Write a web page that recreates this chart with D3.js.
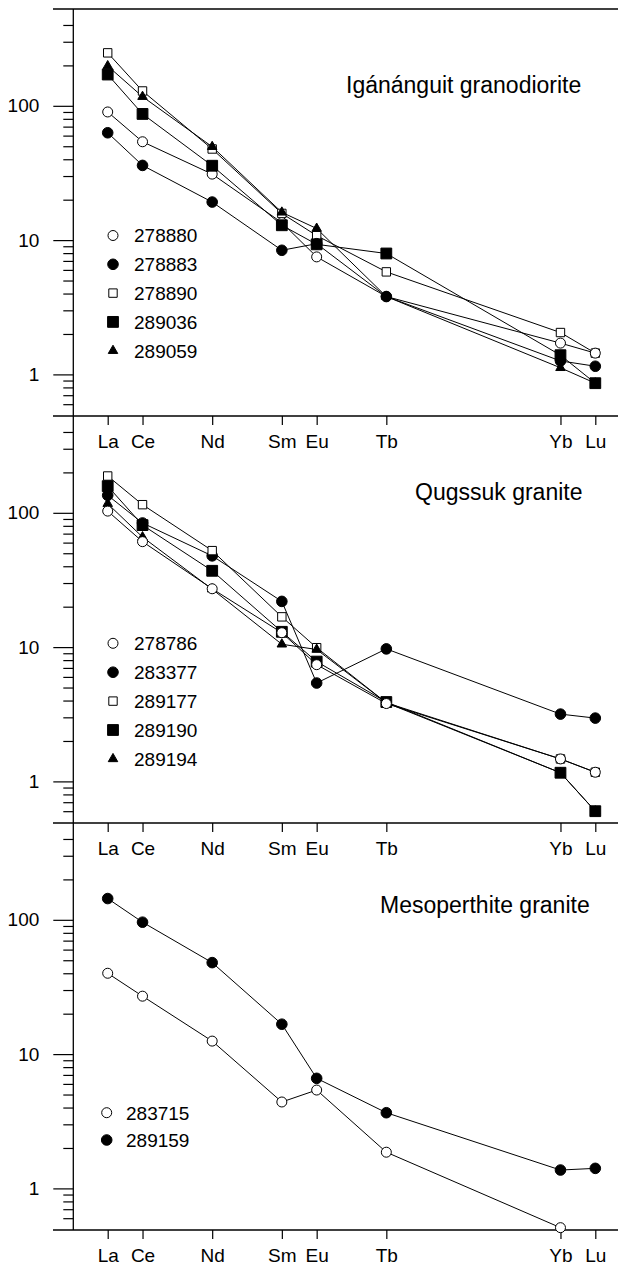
<!DOCTYPE html>
<html>
<head>
<meta charset="utf-8">
<script src="https://cdn.jsdelivr.net/npm/d3@7"></script>
<style>
  html, body { margin: 0; padding: 0; background: #fff; }
  svg { display: block; font-family: "Liberation Sans", Arial, Helvetica, sans-serif; }
</style>
</head>
<body>
<svg id="chart" width="618" height="1265"></svg>
<script>
// Rare earth elements shown on the x axis, placed by atomic number
const elements = ["La", "Ce", "Nd", "Sm", "Eu", "Tb", "Yb", "Lu"];
const atomicNumbers = [57, 58, 60, 62, 63, 65, 70, 71];

// Chondrite-normalised log axis
const majorTicks = [1, 10, 100];
const majorTickLabels = ["1", "10", "100"];
const minorTicks = [0.6, 0.7, 0.8, 0.9, 2, 3, 4, 5, 6, 7, 8, 9,
                    20, 30, 40, 50, 60, 70, 80, 90, 200, 300, 400];

// Igánánguit granodiorite
const igaSamples = ["278880", "278883", "278890", "289036", "289059"];
const igaSymbols = ["circleOpen", "circleFilled", "squareOpen", "squareFilled", "triangle"];
const iga278880 = [90, 54, 31, 13.5, 7.5, 3.8, 1.71, 1.44];
const iga278883 = [63, 36, 19.2, 8.4, 9.4, 3.8, 1.26, 1.15];
const iga278890 = [248, 129, 47.7, 15.8, 10.8, 5.8, 2.05, 1.44];
const iga289036 = [171, 87, 35.8, 12.9, 9.3, 7.95, 1.39, 0.86];
const iga289059 = [198, 117, 49.6, 16.1, 12.2, 3.8, 1.12, 0.86];

// Qugssuk granite
const qugSamples = ["278786", "283377", "289177", "289190", "289194"];
const qugSymbols = ["circleOpen", "circleFilled", "squareOpen", "squareFilled", "triangle"];
const qug278786 = [103, 61, 27.2, 12.8, 7.4, 3.8, 1.47, 1.17];
const qug283377 = [135, 84, 47.8, 21.9, 5.4, 9.7, 3.17, 2.96];
const qug289177 = [188, 115, 52.3, 16.8, 9.9, 3.85, 1.47, 1.17];
const qug289190 = [158, 81, 37, 13, 7.8, 3.9, 1.16, 0.6];
const qug289194 = [117, 66, 27, 10.5, 9.6, 3.85, 1.16, 0.6];

// Mesoperthite granite (no Lu value for 283715)
const mesSamples = ["283715", "289159"];
const mesSymbols = ["circleOpen", "circleFilled"];
const mes283715 = [40, 27, 12.5, 4.4, 5.4, 1.86, 0.51, null];
const mes289159 = [144, 96, 48, 16.7, 6.6, 3.66, 1.37, 1.41];

// Stacking order of the marker layers (index into each panel's sample list)
const igaDrawOrder = [2, 0, 1, 3, 4];
const qugDrawOrder = [1, 2, 4, 3, 0];
const mesDrawOrder = [0, 1];

const panels = [
  { title: "Igánánguit granodiorite", samples: igaSamples, symbols: igaSymbols, order: igaDrawOrder,
    values: [iga278880, iga278883, iga278890, iga289036, iga289059] },
  { title: "Qugssuk granite", samples: qugSamples, symbols: qugSymbols, order: qugDrawOrder,
    values: [qug278786, qug283377, qug289177, qug289190, qug289194] },
  { title: "Mesoperthite granite", samples: mesSamples, symbols: mesSymbols, order: mesDrawOrder,
    values: [mes283715, mes289159] }
];

// Layout
const svg = d3.select("#chart");
const axisX = 73.3;
const lineLeft = 53;
const lineRight = 618;
const panelTops = [9, 416, 823];
const panelHeight = 407;
const tickFont = 19;
const titleFont = 23;
const titlePos = [{ x: 346, y: 84.3 }, { x: 415, y: 84 }, { x: 380, y: 90.3 }];
const legendPos = [
  { x: 113, tx: 134, y: 226.5, step: 28.8 },
  { x: 113, tx: 134, y: 227.3, step: 28.9 },
  { x: 106.7, tx: 126, y: 289.7, step: 27.3 }
];

const x = d3.scaleLinear().domain([57, 71]).range([107.7, 595.3]);

function symbolPath(kind) {
  if (kind === "circleOpen") return d3.symbol(d3.symbolCircle, Math.PI * 5 * 5)();
  if (kind === "circleFilled") return d3.symbol(d3.symbolCircle, Math.PI * 5.3 * 5.3)();
  if (kind === "squareOpen") return d3.symbol(d3.symbolSquare, 8.4 * 8.4)();
  if (kind === "squareFilled") return d3.symbol(d3.symbolSquare, 10.8 * 10.8)();
  return d3.symbol(d3.symbolTriangle, Math.sqrt(3) / 4 * 9.5 * 9.5)();
}
function isFilled(kind) { return kind === "circleFilled" || kind === "squareFilled" || kind === "triangle"; }

panels.forEach((p, pi) => {
  const top = panelTops[pi];
  const bottom = top + panelHeight;
  const y = d3.scaleLog().domain([0.49, 526]).range([bottom, top]);
  const g = svg.append("g");

  // frame lines: top (first panel only), bottom and left axis
  if (pi === 0) {
    g.append("line").attr("x1", lineLeft).attr("x2", lineRight)
      .attr("y1", top).attr("y2", top).attr("stroke", "#000").attr("stroke-width", 1.4);
  }
  g.append("line").attr("x1", lineLeft).attr("x2", lineRight)
    .attr("y1", bottom).attr("y2", bottom).attr("stroke", "#000").attr("stroke-width", 1.4);
  g.append("line").attr("x1", axisX).attr("x2", axisX)
    .attr("y1", top).attr("y2", bottom).attr("stroke", "#000").attr("stroke-width", 1.3);

  // y axis: major and minor ticks
  const yMajor = d3.axisLeft(y).tickValues(majorTicks)
    .tickFormat((d, i) => majorTickLabels[i]).tickSize(20).tickPadding(14);
  const gy = g.append("g").attr("transform", `translate(${axisX},0)`).call(yMajor);
  const yMinor = d3.axisLeft(y).tickValues(minorTicks).tickFormat("").tickSize(10);
  const gy2 = g.append("g").attr("transform", `translate(${axisX},0)`).call(yMinor);
  [gy, gy2].forEach(a => {
    a.select(".domain").remove();
    a.selectAll(".tick line").attr("stroke", "#000").attr("stroke-width", 1.2);
  });
  gy.selectAll(".tick text").attr("font-size", tickFont)
    .attr("font-family", "'Liberation Sans', Arial, sans-serif").attr("fill", "#000");

  // x axis with element labels
  const xAxis = d3.axisBottom(x).tickValues(atomicNumbers)
    .tickFormat((d, i) => elements[i]).tickSize(9).tickPadding(9.5);
  const gx = g.append("g").attr("transform", `translate(0,${bottom})`).call(xAxis);
  gx.select(".domain").remove();
  gx.selectAll(".tick line").attr("stroke", "#000").attr("stroke-width", 1.2);
  gx.selectAll(".tick text").attr("font-size", tickFont)
    .attr("font-family", "'Liberation Sans', Arial, sans-serif").attr("fill", "#000");

  // panel title
  g.append("text").attr("x", titlePos[pi].x).attr("y", top + titlePos[pi].y)
    .attr("font-size", titleFont).attr("fill", "#000").text(p.title);

  // pattern lines
  const line = d3.line()
    .defined(d => d.v != null)
    .x(d => x(d.z))
    .y(d => y(d.v));
  p.values.forEach(vals => {
    const pts = vals.map((v, i) => ({ z: atomicNumbers[i], v }));
    g.append("path").attr("d", line(pts)).attr("fill", "none")
      .attr("stroke", "#000").attr("stroke-width", 1);
  });

  // markers, layered in the panel's stacking order
  p.order.forEach(si => {
    const vals = p.values[si];
    const kind = p.symbols[si];
    const pts = vals.map((v, i) => ({ z: atomicNumbers[i], v })).filter(d => d.v != null);
    g.selectAll(null).data(pts).enter().append("path")
      .attr("d", symbolPath(kind))
      .attr("transform", d => `translate(${x(d.z)},${y(d.v)})`)
      .attr("fill", isFilled(kind) ? "#000" : "#fff")
      .attr("stroke", "#000").attr("stroke-width", 1);
  });

  // legend
  const lp = legendPos[pi];
  p.samples.forEach((name, si) => {
    const kind = p.symbols[si];
    const ly = top + lp.y + si * lp.step;
    g.append("path").attr("d", symbolPath(kind))
      .attr("transform", `translate(${lp.x},${ly})`)
      .attr("fill", isFilled(kind) ? "#000" : "#fff")
      .attr("stroke", "#000").attr("stroke-width", 1);
    g.append("text").attr("x", lp.tx).attr("y", ly).attr("dy", "0.36em")
      .attr("font-size", tickFont).attr("fill", "#000").text(name);
  });
});
</script>
</body>
</html>
